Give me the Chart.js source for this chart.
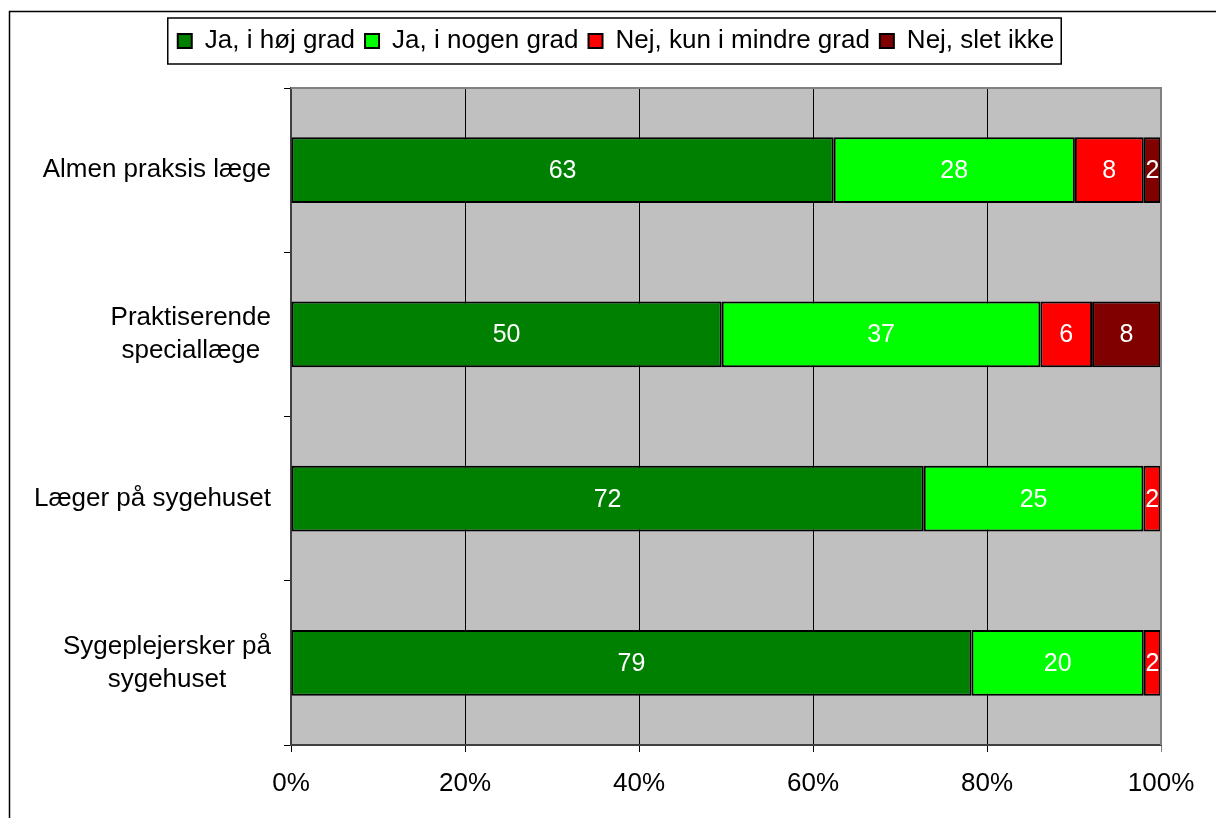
<!DOCTYPE html>
<html>
<head>
<meta charset="utf-8">
<script src="https://cdn.jsdelivr.net/npm/chart.js@4/dist/chart.umd.min.js"></script>
<style>
  html, body { margin: 0; padding: 0; background: #fff; }
  #wrap { width: 1216px; height: 818px; }
</style>
</head>
<body>
<div id="wrap"><canvas id="chart" width="1216" height="818"></canvas></div>
<script>
// categories (top to bottom)
const categories = [
  ["Almen praksis læge"],
  ["Praktiserende", "speciallæge"],
  ["Læger på sygehuset"],
  ["Sygeplejersker på", "sygehuset"]
];
const seriesNames = ["Ja, i høj grad", "Ja, i nogen grad", "Nej, kun i mindre grad", "Nej, slet ikke"];
const seriesColors = ["#008000", "#00FF00", "#FF0000", "#800000"];

// answer percentages as printed on the bars
const hoejGrad = [63, 50, 72, 79];
const nogenGrad = [28, 37, 25, 20];
const mindreGrad = [8, 6, 2, 2];
const sletIkke = [2, 8, 0, 0];

const xTicks = [0, 20, 40, 60, 80, 100];

const FONT = "'Liberation Sans', Arial, sans-serif";
const rawSeries = [hoejGrad, nogenGrad, mindreGrad, sletIkke];
const totals = categories.map((_, i) => rawSeries.reduce((s, arr) => s + arr[i], 0));

// 100% stacked: each bar is scaled to its row total
const datasets = rawSeries.map((arr, k) => ({
  label: seriesNames[k],
  data: arr.map((v, i) => v / totals[i] * 100),
  raw: arr,
  backgroundColor: seriesColors[k],
  borderColor: "#000",
  borderWidth: 2,
  borderSkipped: false,
  categoryPercentage: 1,
  barPercentage: 0.4
}));

// leave a gap between legend and plot like the original
const legendGap = {
  id: "legendGap",
  beforeLayout(chart) {
    const lg = chart.legend;
    if (!lg || lg._gapPatched) return;
    const fit = lg.fit;
    lg.fit = function () { fit.call(this); this.height += 24; };
    lg._gapPatched = true;
  }
};

const framePlugin = {
  id: "frame",
  beforeDraw(chart) {
    const { ctx, chartArea: a } = chart;
    ctx.save();
    ctx.fillStyle = "#C0C0C0";
    ctx.fillRect(a.left, a.top, a.right - a.left, a.bottom - a.top);
    ctx.restore();
  },
  afterDraw(chart) {
    const { ctx, chartArea: a } = chart;
    ctx.save();
    // plot border top + right
    ctx.strokeStyle = "#808080";
    ctx.lineWidth = 2;
    ctx.beginPath();
    ctx.moveTo(a.left, a.top);
    ctx.lineTo(a.right, a.top);
    ctx.lineTo(a.right, a.bottom);
    ctx.stroke();

    // legend box
    const boxes = chart.legend.legendHitBoxes;
    if (boxes.length) {
      const first = boxes[0], last = boxes[boxes.length - 1];
      ctx.strokeStyle = "#000";
      ctx.lineWidth = 1.5;
      ctx.strokeRect(first.left - 10, first.top - 10, last.left + last.width - first.left + 17, first.height + 20);
    }

    // category labels: lines centred on each other, block right aligned
    const y = chart.scales.y;
    ctx.font = "26px " + FONT;
    ctx.fillStyle = "#000";
    ctx.textBaseline = "middle";
    ctx.textAlign = "center";
    categories.forEach((lines, i) => {
      const yc = y.getPixelForTick(i);
      const w = Math.max(...lines.map(l => ctx.measureText(l).width));
      const cx = a.left - 20 - w / 2;
      const lh = 33;
      lines.forEach((l, j) => {
        ctx.fillText(l, cx, yc + (j - (lines.length - 1) / 2) * lh);
      });
    });

    // outer chart frame
    ctx.strokeStyle = "#000";
    ctx.lineWidth = 1.5;
    ctx.strokeRect(9.5, 11.5, 1300, 900);
    ctx.restore();
  }
};

const valueLabels = {
  id: "valueLabels",
  afterDatasetsDraw(chart) {
    const { ctx } = chart;
    ctx.save();
    ctx.font = "25px " + FONT;
    ctx.fillStyle = "#fff";
    ctx.textAlign = "center";
    ctx.textBaseline = "middle";
    chart.data.datasets.forEach((ds, k) => {
      chart.getDatasetMeta(k).data.forEach((el, i) => {
        if (!ds.raw[i]) return;
        const c = el.getCenterPoint();
        ctx.fillText(String(ds.raw[i]), c.x, c.y + 1);
      });
    });
    ctx.restore();
  }
};

new Chart(document.getElementById("chart"), {
  type: "bar",
  data: { labels: categories.map(c => c.join(" ")), datasets },
  plugins: [legendGap, framePlugin, valueLabels],
  options: {
    indexAxis: "y",
    responsive: false,
    animation: false,
    layout: { padding: { left: 71, right: 55, top: 18, bottom: 0 } },
    plugins: {
      tooltip: { enabled: false },
      legend: {
        position: "top",
        labels: {
          font: { family: FONT, size: 26 },
          color: "#000",
          boxWidth: 14,
          boxHeight: 14,
          padding: 10
        }
      }
    },
    scales: {
      x: {
        stacked: true,
        min: 0,
        max: 100,
        afterFit: s => { s.height = 73; },
        afterBuildTicks: s => { s.ticks = xTicks.map(v => ({ value: v })); },
        ticks: {
          font: { family: FONT, size: 26 },
          color: "#000",
          padding: 16,
          maxRotation: 0,
          callback: v => v + "%"
        },
        grid: {
          color: ctx => ctx.index === xTicks.length - 1 ? "#808080" : "#000",
          lineWidth: 1,
          tickLength: 7
        },
        border: { color: "#404040", width: 2 }
      },
      y: {
        stacked: true,
        afterFit: s => { s.width = 220; },
        ticks: { display: false },
        grid: {
          drawOnChartArea: false,
          offset: true,
          color: "#000",
          tickLength: 7
        },
        border: { color: "#404040", width: 2 }
      }
    }
  }
});
</script>
</body>
</html>
